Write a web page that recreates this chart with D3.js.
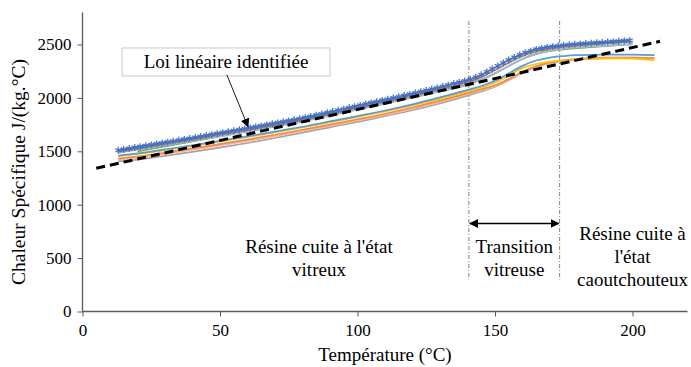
<!DOCTYPE html>
<html><head><meta charset="utf-8">
<script src="https://cdn.jsdelivr.net/npm/d3@7"></script>
<style>
body{margin:0;background:#fff;}
text{font-family:"Liberation Serif","Times New Roman",serif;fill:#000;}
</style></head>
<body><svg id="c" width="691" height="367"></svg>
<script>
// ---- data ----
const xTicks = [0, 50, 100, 150, 200];
const yTicks = [0, 500, 1000, 1500, 2000, 2500];
const xLabel = "Température (°C)";
const yLabel = "Chaleur Spécifique J/(kg.°C)";

// series with star markers (every 2 °C)
const starTemps = [13,15,17,19,21,23,25,27,29,31,33,35,37,39,41,43,45,47,49,51,53,55,57,59,61,63,65,67,69,71,73,75,77,79,81,83,85,87,89,91,93,95,97,99,101,103,105,107,109,111,113,115,117,119,121,123,125,127,129,131,133,135,137,139,141,143,145,147,149,151,153,155,157,159,161,163,165,167,169,171,173,175,177,179,181,183,185,187,189,191,193,195,197,199];
const starValues = [1510,1519,1527,1536,1544,1553,1561,1570,1578,1587,1595,1604,1612,1621,1630,1639,1648,1657,1666,1675,1684,1693,1702,1711,1720,1729,1739,1748,1758,1767,1777,1786,1796,1805,1816,1827,1839,1850,1862,1873,1885,1896,1908,1919,1931,1942,1954,1965,1977,1988,2000,2011,2023,2034,2046,2058,2070,2082,2094,2107,2120,2133,2146,2159,2174,2194,2215,2243,2271,2299,2327,2355,2379,2403,2423,2439,2455,2464,2474,2481,2487,2493,2498,2503,2507,2510,2514,2517,2520,2524,2528,2531,2535,2538];

const tempsA = [13,20,30,40,50,60,70,80,90,100,110,120,130,140,145,150,155,160,165,170,175,180,190,200];
const tempsG = [20,30,40,50,60,70,80,90,100,110,120,130,140,145,150,155,160,165,170,175,180,190,200];
const tempsB = [13,20,30,40,50,60,70,80,90,100,110,120,130,140,145,150,155,160,165,170,175,180,190,200,208];

const orangeTop = [1495,1525,1567,1610,1655,1700,1747,1795,1852,1908,1965,2022,2082,2147,2195,2262,2330,2392,2435,2460,2478,2490,2508,2527];
const paleBlue  = [1488,1515,1555,1597,1640,1685,1730,1778,1833,1890,1945,2002,2060,2122,2168,2230,2300,2365,2410,2440,2460,2472,2488,2502];
const green     = [1500,1545,1592,1640,1690,1740,1790,1842,1895,1950,2005,2063,2128,2170,2230,2300,2365,2412,2440,2455,2466,2485,2505];
const blueLow   = [1460,1480,1518,1557,1598,1640,1685,1730,1780,1830,1882,1940,2005,2075,2112,2160,2230,2300,2350,2378,2392,2400,2405,2405,2400];
const gold      = [1455,1475,1512,1551,1592,1634,1678,1723,1772,1822,1874,1930,1994,2062,2100,2145,2210,2280,2318,2340,2352,2362,2370,2368,2352];
const orangeLow = [1432,1452,1488,1527,1568,1610,1655,1702,1750,1800,1852,1910,1975,2045,2082,2118,2178,2245,2298,2332,2352,2365,2377,2378,2372];
const salmon    = [1420,1440,1476,1515,1555,1597,1642,1690,1738,1788,1840,1898,1962,2035,2072,2110,2170,2240,2295,2330,2350,2364,2376,2378,2374];
const gray      = [1405,1423,1458,1495,1535,1578,1625,1675,1725,1775,1830,1885,1948,2022,2060,2105,2165,2235,2290,2325,2345,2358,2370,2372];

const fitTemps = [5, 210];
const fitValues = [1341, 2530];

const transitionBounds = [140.5, 173.5];
const transitionLineRange = [300, 2720];
const arrowLevel = 824;

const legendText = "Loi linéaire identifiée";
const regionTexts = [
  {x: 86, lines: ["Résine cuite à l'état", "vitreux"], y0: 548},
  {x: 157, lines: ["Transition", "vitreuse"], y0: 548},
  {x: 200, lines: ["Résine cuite à", "l'état", "caoutchouteux"], y0: 672}
];

// ---- drawing ----
const svg = d3.select("#c");
const x = d3.scaleLinear().domain([0, 220]).range([82.5, 687.5]);
const y = d3.scaleLinear().domain([0, 2800]).range([311.5, 12.5]);

const axisColor = "#595959";

// axes
const gx = svg.append("g").attr("transform", `translate(0,${y(0)})`)
  .call(d3.axisBottom(x).tickValues(xTicks).tickFormat(d3.format("d")).tickSize(5).tickPadding(7));
const gy = svg.append("g").attr("transform", `translate(${x(0)},0)`)
  .call(d3.axisLeft(y).tickValues(yTicks).tickFormat(d3.format("d")).tickSize(5).tickPadding(6));
[gx, gy].forEach(g => {
  g.select(".domain").attr("stroke", axisColor).attr("stroke-width", 1.3);
  g.selectAll(".tick line").attr("stroke", axisColor);
  g.selectAll(".tick text").style("font-size", "17px").style("font-family", "'Liberation Serif', serif").attr("fill", "#000");
});
gx.select(".domain").attr("d", `M${x(0)},0H${x(220)}`);
gy.select(".domain").attr("d", `M0,${y(2800)}V${y(0)}`);

// axis titles
svg.append("text").attr("x", 385).attr("y", 361).attr("text-anchor", "middle")
  .style("font-size", "19px").text(xLabel);
svg.append("text").attr("transform", `translate(25,${(y(0)+y(2800))/2 + 10}) rotate(-90)`)
  .attr("text-anchor", "middle").style("font-size", "19.5px").text(yLabel);

// vertical transition lines
svg.append("g").selectAll("line").data(transitionBounds).join("line")
  .attr("x1", d => x(d)).attr("x2", d => x(d))
  .attr("y1", y(transitionLineRange[1])).attr("y2", y(transitionLineRange[0]))
  .attr("stroke", "#7f7f7f").attr("stroke-width", 1)
  .attr("stroke-dasharray", "4,2,1,2");

// series lines
const line = d3.line().x(d => x(d[0])).y(d => y(d[1])).curve(d3.curveMonotoneX);
const series = [
  {t: tempsA, v: gray, c: "#A5A5A5"},
  {t: tempsB, v: salmon, c: "#F4B6A0"},
  {t: tempsB, v: orangeLow, c: "#F08A4B"},
  {t: tempsB, v: gold, c: "#FFC000"},
  {t: tempsB, v: blueLow, c: "#5B9BD5"},
  {t: tempsG, v: green, c: "#70AD47"},
  {t: tempsA, v: paleBlue, c: "#9DB7D8"},
  {t: tempsA, v: orangeTop, c: "#D9743A"}
];
svg.append("g").selectAll("path").data(series).join("path")
  .attr("d", s => line(s.t.map((t, i) => [t, s.v[i]])))
  .attr("fill", "none").attr("stroke", s => s.c).attr("stroke-width", 1.7);

// star series
const starPts = starTemps.map((t, i) => [t, starValues[i]]);
svg.append("path").attr("d", line(starPts)).attr("fill", "none")
  .attr("stroke", "#4472C4").attr("stroke-width", 1.8);
svg.append("g").selectAll("path").data(starPts).join("path")
  .attr("transform", d => `translate(${x(d[0])},${y(d[1])})`)
  .attr("d", d3.symbol(d3.symbolAsterisk, 32))
  .attr("fill", "none").attr("stroke", "#4472C4").attr("stroke-width", 1.3);

// linear fit (dashed)
svg.append("path")
  .attr("d", d3.line().x(d => x(d[0])).y(d => y(d[1]))(fitTemps.map((t, i) => [t, fitValues[i]])))
  .attr("fill", "none").attr("stroke", "#000").attr("stroke-width", 3)
  .attr("stroke-dasharray", "9,5");

// markers
const defs = svg.append("defs");
defs.append("marker").attr("id", "ah").attr("viewBox", "0 0 10 10")
  .attr("refX", 9).attr("refY", 5).attr("markerWidth", 9).attr("markerHeight", 9)
  .attr("markerUnits", "userSpaceOnUse").attr("orient", "auto-start-reverse")
  .append("path").attr("d", "M0,0L10,5L0,10Z").attr("fill", "#000");

// double arrow for transition
svg.append("line")
  .attr("x1", x(transitionBounds[0]) + 1).attr("x2", x(transitionBounds[1]) - 1)
  .attr("y1", y(arrowLevel)).attr("y2", y(arrowLevel))
  .attr("stroke", "#000").attr("stroke-width", 1.3)
  .attr("marker-start", "url(#ah)").attr("marker-end", "url(#ah)");

// legend box + callout arrow
const legendBox = {x0: 14.4, x1: 90, y0: 2206, y1: 2468};
svg.append("rect").attr("x", x(legendBox.x0)).attr("y", y(legendBox.y1))
  .attr("width", x(legendBox.x1) - x(legendBox.x0)).attr("height", y(legendBox.y0) - y(legendBox.y1))
  .attr("fill", "#fff").attr("stroke", "#C8C8C8").attr("stroke-width", 1);
svg.append("text").attr("x", (x(legendBox.x0) + x(legendBox.x1)) / 2).attr("y", y(legendBox.y0) - 8)
  .attr("text-anchor", "middle").style("font-size", "19px").text(legendText);
svg.append("line").attr("x1", x(52.5)).attr("y1", y(legendBox.y0) - 1)
  .attr("x2", x(60.2)).attr("y2", y(1730))
  .attr("stroke", "#000").attr("stroke-width", 0.9).attr("marker-end", "url(#ah)");

// region labels
regionTexts.forEach(r => {
  const t = svg.append("text").attr("text-anchor", "middle").style("font-size", "19px");
  r.lines.forEach((l, i) => {
    t.append("tspan").attr("x", x(r.x)).attr("y", y(r.y0) + i * 23).text(l);
  });
});
</script></body></html>
